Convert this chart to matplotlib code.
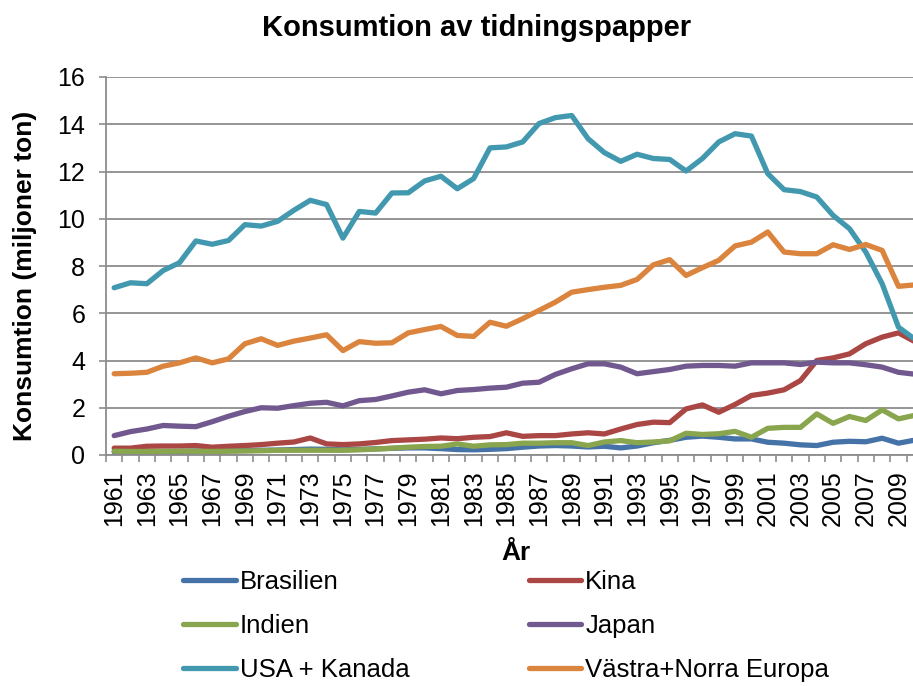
# -*- coding: utf-8 -*-
"""
Konsumtion av tidningspapper, 1961-2010
"""

#%%
import numpy as np
import matplotlib
matplotlib.use("Agg")
import matplotlib.pyplot as plt
from matplotlib.ticker import FixedLocator, NullFormatter


#%% data (miljoner ton)
years = list(range(1961, 2011))

brasilien = [0.13, 0.14, 0.15, 0.15, 0.15, 0.17, 0.17, 0.18, 0.19, 0.20,
             0.21, 0.23, 0.25, 0.24, 0.22, 0.24, 0.26, 0.28, 0.30, 0.30,
             0.27, 0.23, 0.22, 0.24, 0.27, 0.33, 0.38, 0.40, 0.38, 0.34,
             0.37, 0.30, 0.38, 0.52, 0.62, 0.75, 0.80, 0.75, 0.68, 0.68,
             0.54, 0.50, 0.43, 0.40, 0.54, 0.58, 0.56, 0.71, 0.50, 0.63]
kina = [0.29, 0.29, 0.37, 0.38, 0.38, 0.40, 0.33, 0.37, 0.40, 0.44,
        0.50, 0.55, 0.72, 0.47, 0.44, 0.47, 0.53, 0.61, 0.64, 0.67,
        0.72, 0.69, 0.75, 0.78, 0.94, 0.79, 0.82, 0.82, 0.89, 0.94,
        0.89, 1.10, 1.29, 1.39, 1.37, 1.95, 2.12, 1.81, 2.14, 2.52,
        2.62, 2.76, 3.15, 4.00, 4.11, 4.28, 4.71, 4.99, 5.17, 4.80]
indien = [0.16, 0.15, 0.15, 0.15, 0.16, 0.16, 0.15, 0.16, 0.17, 0.18,
          0.20, 0.20, 0.20, 0.20, 0.20, 0.22, 0.25, 0.29, 0.33, 0.36,
          0.37, 0.47, 0.37, 0.43, 0.44, 0.50, 0.50, 0.52, 0.52, 0.40,
          0.55, 0.61, 0.52, 0.55, 0.60, 0.92, 0.87, 0.90, 1.00, 0.75,
          1.13, 1.17, 1.17, 1.74, 1.34, 1.63, 1.46, 1.91, 1.53, 1.68]
japan = [0.82, 0.99, 1.10, 1.25, 1.22, 1.20, 1.41, 1.64, 1.84, 2.00,
         1.98, 2.09, 2.19, 2.23, 2.08, 2.30, 2.35, 2.50, 2.66, 2.76,
         2.59, 2.73, 2.77, 2.83, 2.87, 3.04, 3.08, 3.41, 3.65, 3.86,
         3.86, 3.72, 3.44, 3.53, 3.62, 3.76, 3.79, 3.79, 3.76, 3.90,
         3.90, 3.90, 3.83, 3.93, 3.90, 3.90, 3.82, 3.72, 3.50, 3.42]
usa_kanada = [7.08, 7.29, 7.25, 7.81, 8.14, 9.06, 8.92, 9.08, 9.75, 9.69,
              9.89, 10.36, 10.78, 10.60, 9.18, 10.31, 10.24, 11.09, 11.10, 11.60,
              11.80, 11.27, 11.70, 13.00, 13.04, 13.25, 14.03, 14.28, 14.37, 13.39,
              12.80, 12.43, 12.73, 12.55, 12.51, 12.02, 12.55, 13.25, 13.60, 13.50,
              11.91, 11.23, 11.15, 10.92, 10.14, 9.58, 8.59, 7.25, 5.41, 4.90]
europa = [3.44, 3.46, 3.50, 3.76, 3.90, 4.11, 3.90, 4.07, 4.71, 4.92,
          4.64, 4.82, 4.95, 5.09, 4.42, 4.80, 4.73, 4.75, 5.17, 5.31,
          5.44, 5.06, 5.02, 5.62, 5.45, 5.77, 6.12, 6.47, 6.89, 7.00,
          7.10, 7.18, 7.43, 8.05, 8.27, 7.60, 7.93, 8.24, 8.85, 9.01,
          9.44, 8.59, 8.52, 8.52, 8.90, 8.70, 8.91, 8.66, 7.14, 7.20]

series_names = ["Brasilien", "Kina", "Indien", "Japan",
                "USA + Kanada", "Västra+Norra Europa"]
series_values = [brasilien, kina, indien, japan, usa_kanada, europa]
series_colors = ["#4572A7", "#AA4643", "#89A54E", "#71588F",
                 "#4198AF", "#DB843D"]
ytick_values = list(range(0, 17, 2))


#%%
def plot():
    "draw the chart and save it"
    plt.rcParams['font.family'] = ['Liberation Sans', 'DejaVu Sans']
    grid_col = "#8c8c8c"

    fig = plt.figure(figsize=(9.13, 6.86), dpi=100)
    # plot area runs a bit past the right edge (cropped like the original)
    ax = fig.add_axes([106 / 913, 1 - 455 / 686, 817 / 913, 378 / 686])

    x = np.arange(len(years))
    lines = []
    for name, vals, col in zip(series_names, series_values, series_colors):
        ln, = ax.plot(x, vals, color=col, lw=3.8, label=name,
                      solid_capstyle='round', solid_joinstyle='round')
        lines.append(ln)

    ax.set_xlim(-0.5, len(years) - 0.5)
    ax.set_ylim(0, 16)

    # y axis
    ax.set_yticks(ytick_values)
    ax.yaxis.grid(True, color=grid_col, lw=1.3)
    ax.set_axisbelow(True)
    ax.tick_params(axis='y', direction='out', length=5, width=1.2,
                   color=grid_col, labelsize=18, pad=10)

    # x axis: ticks on category borders, labels every other year
    ax.xaxis.set_major_locator(FixedLocator(np.arange(-0.5, len(years), 1.0)))
    ax.xaxis.set_major_formatter(NullFormatter())
    ax.xaxis.set_minor_locator(FixedLocator(x[::2]))
    ax.set_xticklabels([str(y) for y in years[::2]], minor=True, rotation=90)
    ax.tick_params(axis='x', which='major', direction='out', length=5,
                   width=1.2, color=grid_col)
    ax.tick_params(axis='x', which='minor', length=0, labelsize=18, pad=11)

    for side in ['top', 'right']:
        ax.spines[side].set_visible(False)
    for side in ['left', 'bottom']:
        ax.spines[side].set_color(grid_col)
        ax.spines[side].set_linewidth(1.3)

    # labels
    fig.text(477 / 913, 1 - 28 / 686, "Konsumtion av tidningspapper",
             ha='center', va='center', fontsize=21, fontweight='bold')
    fig.text(25 / 913, 1 - 276 / 686, "Konsumtion (miljoner ton)",
             ha='center', va='center', rotation=90, fontsize=19,
             fontweight='bold')
    fig.text(516 / 913, 1 - 553 / 686, "År", ha='center', va='center',
             fontsize=19, fontweight='bold')

    # legend, two columns filled row by row like Excel
    order = [0, 2, 4, 1, 3, 5]
    fig.legend([lines[i] for i in order], [series_names[i] for i in order],
               ncol=2, loc='upper left',
               bbox_to_anchor=(183 / 913, 1 - 570 / 686),
               frameon=False, fontsize=18.5, borderpad=0, borderaxespad=0,
               handlelength=2.05, handletextpad=0.15, columnspacing=4.65,
               labelspacing=0.78)

    fig.savefig("out.png", dpi=100)


if __name__ == "__main__":
    plot()
